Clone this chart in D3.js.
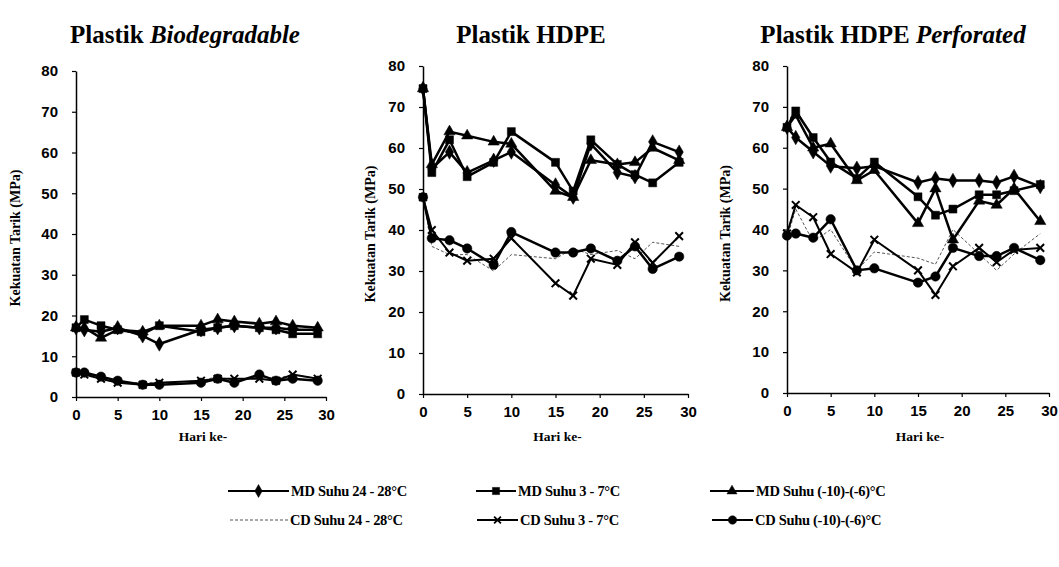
<!DOCTYPE html>
<html>
<head>
<meta charset="utf-8">
<script src="https://cdn.jsdelivr.net/npm/d3@7"></script>
<style>
  body { margin: 0; background: #fff; }
  svg { display: block; font-family: "Liberation Serif", "DejaVu Serif", serif; font-weight: bold; }
</style>
</head>
<body>
<div id="chart"></div>
<script>
// sampling days (Hari ke-)
const days = [0, 1, 3, 5, 8, 10, 15, 17, 19, 22, 24, 26, 29];
const xTicks = [0, 5, 10, 15, 20, 25, 30];
const yTicks = [0, 10, 20, 30, 40, 50, 60, 70, 80];

const seriesNames = ['MD Suhu 24 - 28°C', 'MD Suhu 3 - 7°C', 'MD Suhu (-10)-(-6)°C',
  'CD Suhu 24 - 28°C', 'CD Suhu 3 - 7°C', 'CD Suhu (-10)-(-6)°C'];

// Plastik Biodegradable
const bioMD24 = [17, 16.5, 16, 17, 15, 13, 16.5, 17, 17.5, 17, 17, 16.5, 16.5];
const bioMD3 = [17, 19, 17.5, 16.5, 15.5, 17.5, 16, 17, 17.5, 17, 16.5, 15.5, 15.5];
const bioMD10 = [17, 17, 14.5, 16.5, 16, 17.5, 17.5, 19, 18.5, 18, 18.5, 17.5, 17];
const bioCD24 = [6, 5.5, 5, 3.5, 3.5, 3.5, 4, 5, 4, 5, 4.5, 5.5, 4.5];
const bioCD3 = [6, 5.5, 4.5, 3.5, 3, 3.5, 4, 4.5, 4.5, 4.5, 4, 5.5, 4.5];
const bioCD10 = [6, 6, 5, 4, 3, 3, 3.5, 4.5, 3.5, 5.5, 4, 4.5, 4];

// Plastik HDPE
const hdpeMD24 = [74.5, 55, 59, 54, 57, 59, 51, 48, 61, 54, 53, 61.5, 59];
const hdpeMD3 = [74.5, 54, 62, 53, 56.5, 64, 56.5, 49.5, 62, 56, 53.5, 51.5, 56.5];
const hdpeMD10 = [74.5, 56, 64, 63, 61.5, 61, 49.5, 48, 57, 56, 56.5, 60, 57];
const hdpeCD24 = [48, 36, 34, 34, 30, 34, 33, 35.5, 34, 35, 33, 37, 36];
const hdpeCD3 = [48, 40, 34.5, 32.5, 33, 38, 27, 24, 33, 31.5, 37, 32, 38.5];
const hdpeCD10 = [48, 38, 37.5, 35.5, 31.5, 39.5, 34.5, 34.5, 35.5, 32.5, 36, 30.5, 33.5];

// Plastik HDPE Perforated
const perfMD24 = [65, 62.5, 59, 55.5, 55, 55.5, 51.5, 52.5, 52, 52, 51.5, 53, 50.5];
const perfMD3 = [65, 69, 62.5, 56.5, 52.5, 56.5, 48, 43.5, 45, 48.5, 48.5, 49.5, 51];
const perfMD10 = [65, 68, 60, 61, 52, 54.5, 41.5, 50, 37.5, 47, 46, 50, 42];
const perfCD24 = [38, 45, 37, 40, 30, 34.5, 33, 31.5, 40, 34, 30, 34, 39];
const perfCD3 = [39, 46, 43, 34, 29.5, 37.5, 30, 24, 31, 35.5, 32, 35, 35.5];
const perfCD10 = [38.5, 39, 38, 42.5, 30, 30.5, 27, 28.5, 35.5, 33.5, 33.5, 35.5, 32.5];

const styles = [
  { sym: d3.symbolDiamond, size: 60, width: 2.5, color: '#000', dash: null },
  { sym: d3.symbolSquare, size: 64, width: 2.5, color: '#000', dash: null },
  { sym: d3.symbolTriangle, size: 55, width: 2.5, color: '#000', dash: null },
  { sym: null, size: 0, width: 1, color: '#555', dash: '3,2' },
  { sym: d3.symbolX, size: 40, width: 2, color: '#000', dash: null },
  { sym: d3.symbolCircle, size: 70, width: 2.5, color: '#000', dash: null }
];

const panels = [
  { title: ['Plastik ', 'Biodegradable'], cx: 185, left: 76, right: 326, bottom: 397, top: 71, labelX: 20,
    series: [bioMD24, bioMD3, bioMD10, bioCD24, bioCD3, bioCD10] },
  { title: ['Plastik HDPE', ''], cx: 531, left: 423, right: 688, bottom: 394, top: 66, labelX: 375,
    series: [hdpeMD24, hdpeMD3, hdpeMD10, hdpeCD24, hdpeCD3, hdpeCD10] },
  { title: ['Plastik HDPE ', 'Perforated'], cx: 893, left: 787, right: 1049, bottom: 393, top: 66, labelX: 730,
    series: [perfMD24, perfMD3, perfMD10, perfCD24, perfCD3, perfCD10] }
];

const width = 1059, height = 567;
const svg = d3.select('#chart').append('svg')
  .attr('width', width)
  .attr('height', height)
  .attr('viewBox', [0, 0, width, height]);

panels.forEach(p => {
  const x = d3.scaleLinear().domain([0, 30]).range([p.left, p.right]);
  const y = d3.scaleLinear().domain([0, 80]).range([p.bottom, p.top]);
  const g = svg.append('g');

  const t = g.append('text')
    .attr('x', p.cx).attr('y', 43)
    .attr('text-anchor', 'middle')
    .style('font-size', '25px');
  t.append('tspan').text(p.title[0]);
  if (p.title[1]) t.append('tspan').style('font-style', 'italic').text(p.title[1]);

  g.append('g')
    .attr('transform', `translate(0,${p.bottom})`)
    .call(d3.axisBottom(x).tickValues(xTicks).tickSize(4).tickSizeOuter(0).tickPadding(8))
    .call(a => a.select('.domain').attr('stroke-width', 1.5))
    .call(a => a.selectAll('.tick line').attr('stroke-width', 1.2))
    .call(a => a.selectAll('.tick text').style('font-size', '15px').style('font-family', 'inherit'));

  g.append('g')
    .attr('transform', `translate(${p.left},0)`)
    .call(d3.axisLeft(y).tickValues(yTicks).tickSize(4).tickSizeOuter(0).tickPadding(14))
    .call(a => a.select('.domain').attr('stroke-width', 1.5))
    .call(a => a.selectAll('.tick line').attr('stroke-width', 1.2))
    .call(a => a.selectAll('.tick text').style('font-size', '15px').style('font-family', 'inherit'));

  g.append('text')
    .attr('transform', `translate(${p.labelX},${(p.top + p.bottom) / 2 + 4}) rotate(-90)`)
    .attr('text-anchor', 'middle')
    .style('font-size', '14px')
    .text('Kekuatan Tarik (MPa)');

  g.append('text')
    .attr('x', (p.left + p.right) / 2 + 2).attr('y', 441)
    .attr('text-anchor', 'middle')
    .style('font-size', '13.5px')
    .text('Hari ke-');

  const line = d3.line().x((d, i) => x(days[i])).y(d => y(d));

  // draw thin CD 24-28 first, then the rest
  [3, 4, 5, 0, 1, 2].forEach(si => {
    const s = styles[si];
    const vals = p.series[si];
    g.append('path')
      .attr('d', line(vals))
      .attr('fill', 'none')
      .attr('stroke', s.color)
      .attr('stroke-width', s.width)
      .attr('stroke-dasharray', s.dash)
      .attr('stroke-linejoin', 'round');
    if (s.sym) {
      g.append('g').selectAll('path')
        .data(vals)
        .join('path')
        .attr('transform', (d, i) => `translate(${x(days[i])},${y(d)})`)
        .attr('d', d3.symbol(s.sym, s.size))
        .attr('fill', '#000')
        .attr('stroke', '#000')
        .attr('stroke-width', s.sym === d3.symbolX ? 2 : 0.5);
    }
  });
});

// legend
const legendPos = [
  { lx: 228, tx: 291, y: 491 }, { lx: 476, tx: 518, y: 491 }, { lx: 710, tx: 756, y: 491 },
  { lx: 230, tx: 290, y: 520 }, { lx: 477, tx: 520, y: 520 }, { lx: 712, tx: 755, y: 520 }
];
seriesNames.forEach((name, i) => {
  const s = styles[i], p = legendPos[i];
  const lg = svg.append('g');
  lg.append('line')
    .attr('x1', p.lx).attr('x2', p.tx - 2)
    .attr('y1', p.y).attr('y2', p.y)
    .attr('stroke', s.color)
    .attr('stroke-width', Math.min(s.width, 2))
    .attr('stroke-dasharray', s.dash);
  if (s.sym) {
    lg.append('path')
      .attr('transform', `translate(${(p.lx + p.tx - 2) / 2},${p.y})`)
      .attr('d', d3.symbol(s.sym, s.size * 0.8))
      .attr('fill', '#000')
      .attr('stroke', '#000')
      .attr('stroke-width', s.sym === d3.symbolX ? 1.8 : 0.5);
  }
  lg.append('text')
    .attr('x', p.tx).attr('y', p.y + 5)
    .style('font-size', '14.5px')
    .style('letter-spacing', '-0.3px')
    .text(name);
});
</script>
</body>
</html>
